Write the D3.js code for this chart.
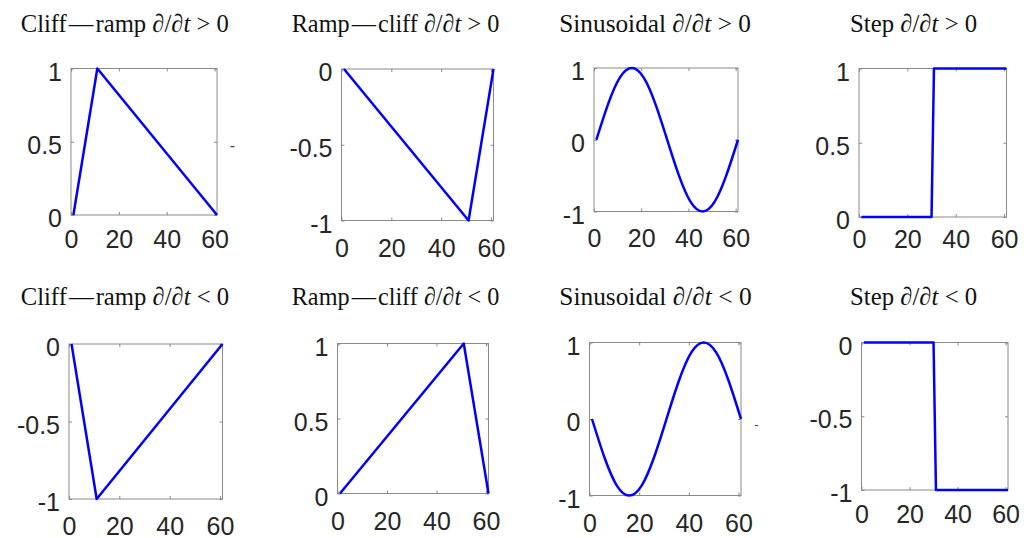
<!DOCTYPE html>
<html>
<head>
<meta charset="utf-8">
<script src="https://cdn.jsdelivr.net/npm/d3@7"></script>
<style>
  html, body { margin: 0; padding: 0; background: #fff; }
  svg { display: block; }
</style>
</head>
<body>
<svg id="chart" width="1024" height="538"></svg>
<script>
// ---------------- DATA ----------------
const titlesMain = ["Cliff\u200A\u2014\u200Aramp", "Ramp\u200A\u2014\u200Acliff", "Sinusoidal", "Step",
                    "Cliff\u200A\u2014\u200Aramp", "Ramp\u200A\u2014\u200Acliff", "Sinusoidal", "Step"];
const titleSigns = [">", ">", ">", ">", "<", "<", "<", "<"];

const xTickValues = [0, 20, 40, 60];
const xTickLabels = ["0", "20", "40", "60"];

const yTicksPos = [0, 0.5, 1];      const yLabelsPos = ["0", "0.5", "1"];
const yTicksNeg = [-1, -0.5, 0];    const yLabelsNeg = ["-1", "-0.5", "0"];
const yTicksSin = [-1, 0, 1];       const yLabelsSin = ["-1", "0", "1"];

// series (time step t, value)
const cliffRampX = [1, 11, 61];
const cliffRampUpY = [0, 1, 0];
const cliffRampDownY = [0, -1, 0];

const rampCliffX = [1, 51, 61];
const rampCliffUpY = [0, -1, 0];
const rampCliffDownY = [0, 1, 0];

const sineX = [1, 6, 11, 16, 21, 26, 31, 36, 41, 46, 51, 56, 61];
const sineUpY = [0, 0.5, 0.87, 1, 0.87, 0.5, 0, -0.5, -0.87, -1, -0.87, -0.5, 0];
const sineDownY = [0, -0.5, -0.87, -1, -0.87, -0.5, 0, 0.5, 0.87, 1, 0.87, 0.5, 0];

const stepX = [1, 30, 31, 61];
const stepUpY = [0, 0, 1, 1];
const stepDownY = [0, 0, -1, -1];

const seriesX = [cliffRampX, rampCliffX, sineX, stepX, cliffRampX, rampCliffX, sineX, stepX];
const seriesY = [cliffRampUpY, rampCliffUpY, sineUpY, stepUpY, cliffRampDownY, rampCliffDownY, sineDownY, stepDownY];
const yTicks = [yTicksPos, yTicksNeg, yTicksSin, yTicksPos, yTicksNeg, yTicksPos, yTicksSin, yTicksNeg];
const yLabels = [yLabelsPos, yLabelsNeg, yLabelsSin, yLabelsPos, yLabelsNeg, yLabelsPos, yLabelsSin, yLabelsNeg];
const smooth = [false, false, true, false, false, false, true, false];

// ---------------- LAYOUT ----------------
// box: [left, top, right, bottom]
const boxes = [
  [71, 68.5, 217, 215],
  [341.5, 69, 493.5, 220.5],
  [594, 68, 738, 211.5],
  [859, 68.5, 1006.5, 217],
  [69, 344, 222.5, 499],
  [337.5, 343.5, 488.5, 493.5],
  [589.5, 342.5, 741, 495.5],
  [861.5, 342.5, 1008, 490]
];
const xLabelPad = [15, 18.5, 17.5, 13, 18, 18.5, 18.5, 15];
const titleLeft = [20.7, 291.7, 559.3, 850, 20.7, 291.7, 559.3, 850];
const titleBase = [32.3, 32.3, 32.3, 32.3, 305, 305, 305, 305];
const titleWidth = [208.3, 207.6, 191.7, 127.3, 208.6, 207.6, 192.4, 127.3];

const svg = d3.select("#chart");
const TXT = "#262626";
const FONT = "'Liberation Sans', Arial, Helvetica, sans-serif";
const TICKFS = 25;

boxes.forEach((b, i) => {
  const [l, t, r, bt] = b;
  const x = d3.scaleLinear().domain([0, 61]).range([l, r]);
  const yd = d3.extent(yTicks[i]);
  const y = d3.scaleLinear().domain(yd).range([bt, t]);
  const g = svg.append("g");

  g.append("rect").attr("x", l).attr("y", t).attr("width", r - l).attr("height", bt - t)
    .attr("fill", "none").attr("stroke", "#8a8a8a").attr("stroke-width", 1);

  const xb = g.append("g").attr("transform", `translate(0,${bt})`)
    .call(d3.axisBottom(x).tickValues(xTickValues).tickSize(-3).tickPadding(xLabelPad[i])
      .tickFormat((d, k) => xTickLabels[k]));
  const xt = g.append("g").attr("transform", `translate(0,${t})`)
    .call(d3.axisTop(x).tickValues(xTickValues).tickSize(-3).tickFormat(""));
  const yl = g.append("g").attr("transform", `translate(${l},0)`)
    .call(d3.axisLeft(y).tickValues(yTicks[i]).tickSize(-3).tickPadding(9)
      .tickFormat((d, k) => yLabels[i][k]));
  const yr = g.append("g").attr("transform", `translate(${r},0)`)
    .call(d3.axisRight(y).tickValues(yTicks[i]).tickSize(-3).tickFormat(""));

  [xb, xt, yl, yr].forEach(a => {
    a.select(".domain").remove();
    a.selectAll(".tick line").attr("stroke", "#8a8a8a").attr("stroke-width", 1);
    a.selectAll("text").attr("fill", TXT).style("font-family", FONT).style("font-size", TICKFS + "px");
  });
  xb.selectAll("text").attr("dy", "0.7em");
  yl.selectAll("text").attr("dy", "0.46em");

  const pts = seriesX[i].map((v, k) => [v, seriesY[i][k]]);
  const line = d3.line().x(d => x(d[0])).y(d => y(d[1]))
    .curve(smooth[i] ? d3.curveNatural : d3.curveLinear);
  g.append("path").datum(pts).attr("d", line)
    .attr("fill", "none").attr("stroke", "#0000ff").attr("stroke-width", 2.5)
    .attr("stroke-linejoin", "round");

  // title (scaled horizontally to the measured width)
  const tg = svg.append("g");
  const tt = tg.append("text").attr("x", 0).attr("y", 0)
    .style("font-family", "'Liberation Serif', 'Times New Roman', serif")
    .style("font-size", "25.5px").attr("fill", "#111");
  tt.append("tspan").text(titlesMain[i] + " \u2202/\u2202");
  tt.append("tspan").style("font-style", "italic").text("t");
  tt.append("tspan").text(" " + titleSigns[i] + " 0");
  const w = tt.node().getComputedTextLength();
  const sx = titleWidth[i] / w;
  tg.attr("transform", `translate(${titleLeft[i]},${titleBase[i]}) scale(${sx.toFixed(4)},1)`);
});

// stray marks present in the original figure
svg.append("text").attr("x", 232.5).attr("y", 151).attr("text-anchor", "middle")
  .style("font-family", FONT).style("font-size", "16px").attr("fill", "#444").text("-");
svg.append("text").attr("x", 756.5).attr("y", 429).attr("text-anchor", "middle")
  .style("font-family", FONT).style("font-size", "13px").attr("fill", "#444").text("-");
</script>
</body>
</html>
